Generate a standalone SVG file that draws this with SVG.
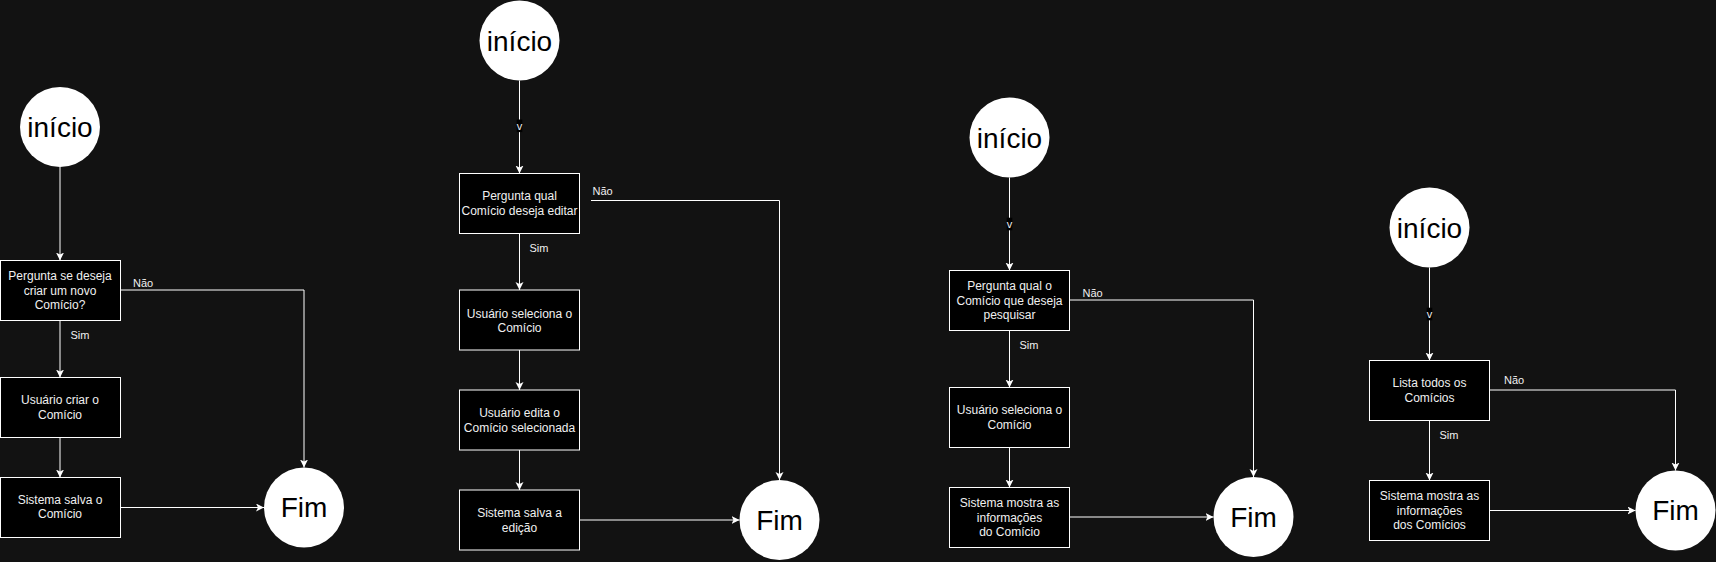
<svg xmlns="http://www.w3.org/2000/svg" width="1716" height="562" viewBox="0 0 1716 562">
<defs>
<marker id="arr" markerUnits="userSpaceOnUse" markerWidth="10" markerHeight="10" refX="8" refY="4" orient="auto">
<path d="M0,0 L8,4 L0,8 L2,4 Z" fill="#ffffff"/>
</marker>
<style>
.bg{fill:#121212}
.box{fill:#000000;stroke:#ffffff;stroke-width:1}
.circ{fill:#ffffff;stroke:none}
.big{font-family:"Liberation Sans",Arial,sans-serif;font-size:28px;fill:#000000;text-anchor:middle}
.t{font-family:"Liberation Sans",Arial,sans-serif;font-size:12px;fill:#f0f0f0;text-anchor:middle}
.lbl{font-family:"Liberation Sans",Arial,sans-serif;font-size:11px;fill:#f0f0f0}
.lblc{font-family:"Liberation Sans",Arial,sans-serif;font-size:11px;fill:#f0f0f0;text-anchor:middle}
.e{fill:none;stroke:#ffffff;stroke-width:1;marker-end:url(#arr)}
.vbg{fill:#000000}
</style>
</defs>
<rect class="bg" x="0" y="0" width="1716" height="562"/>

<g id="connectors">
<!-- diagram 1 -->
<path class="e" d="M60,167 L60,260.5"/>
<path class="e" d="M120.5,290 L304,290 L304,467.5"/>
<path class="e" d="M60,320.5 L60,377.5"/>
<path class="e" d="M60,437.5 L60,477.5"/>
<path class="e" d="M120.5,507.5 L264,507.5"/>
<text class="lbl" x="133" y="286.5">Não</text>
<text class="lblc" x="80" y="339">Sim</text>
<!-- diagram 2 -->
<path class="e" d="M519.5,80.5 L519.5,173.5"/>
<rect class="vbg" x="516.7" y="119.5" width="5.6" height="12.6"/>
<text class="lblc" x="519.5" y="129.5">v</text>
<path class="e" d="M591,200.5 L779.5,200.5 L779.5,480"/>
<text class="lbl" x="592.5" y="194.5">Não</text>
<path class="e" d="M519.5,233.5 L519.5,290"/>
<text class="lblc" x="539" y="252">Sim</text>
<path class="e" d="M519.5,350 L519.5,390"/>
<path class="e" d="M519.5,450 L519.5,490"/>
<path class="e" d="M579.5,520 L739.5,520"/>
<!-- diagram 3 -->
<path class="e" d="M1009.5,177.5 L1009.5,270.5"/>
<rect class="vbg" x="1006.7" y="217.7" width="5.6" height="12.6"/>
<text class="lblc" x="1009.5" y="228">v</text>
<path class="e" d="M1069.5,300 L1253.5,300 L1253.5,477"/>
<text class="lbl" x="1082.5" y="296.5">Não</text>
<path class="e" d="M1009.5,330.5 L1009.5,387.5"/>
<text class="lblc" x="1029" y="349">Sim</text>
<path class="e" d="M1009.5,447.5 L1009.5,487.5"/>
<path class="e" d="M1069.5,517 L1213.5,517"/>
<!-- diagram 4 -->
<path class="e" d="M1429.5,267.5 L1429.5,360.5"/>
<rect class="vbg" x="1426.7" y="307.7" width="5.6" height="12.6"/>
<text class="lblc" x="1429.5" y="318">v</text>
<path class="e" d="M1489.5,390 L1675.5,390 L1675.5,470.5"/>
<text class="lbl" x="1504" y="384">Não</text>
<path class="e" d="M1429.5,420.5 L1429.5,480.5"/>
<text class="lblc" x="1449" y="439">Sim</text>
<path class="e" d="M1489.5,510.5 L1635.5,510.5"/>
</g>

<!-- diagram 1 nodes -->
<g id="d1-inicio"><circle class="circ" cx="60" cy="127" r="40"/><text class="big" x="60" y="137">início</text></g>
<g id="d1-pergunta"><rect class="box" x="0.5" y="260.5" width="120" height="60"/>
<text class="t" x="60" y="280">Pergunta se deseja</text><text class="t" x="60" y="294.5">criar um novo</text><text class="t" x="60" y="309">Comício?</text></g>
<g id="d1-usuario"><rect class="box" x="0.5" y="377.5" width="120" height="60"/>
<text class="t" x="60" y="404">Usuário criar o</text><text class="t" x="60" y="418.5">Comício</text></g>
<g id="d1-sistema"><rect class="box" x="0.5" y="477.5" width="120" height="60"/>
<text class="t" x="60" y="503.5">Sistema salva o</text><text class="t" x="60" y="518">Comício</text></g>
<g id="d1-fim"><circle class="circ" cx="304" cy="507.5" r="40"/><text class="big" x="304" y="517">Fim</text></g>

<!-- diagram 2 nodes -->
<g id="d2-inicio"><circle class="circ" cx="519.5" cy="40.5" r="40"/><text class="big" x="519.5" y="50.5">início</text></g>
<g id="d2-pergunta"><rect class="box" x="459.5" y="173.5" width="120" height="60"/>
<text class="t" x="519.5" y="200">Pergunta qual</text><text class="t" x="519.5" y="214.5">Comício deseja editar</text></g>
<g id="d2-seleciona"><rect class="box" x="459.5" y="290" width="120" height="60"/>
<text class="t" x="519.5" y="317.5">Usuário seleciona o</text><text class="t" x="519.5" y="332">Comício</text></g>
<g id="d2-edita"><rect class="box" x="459.5" y="390" width="120" height="60"/>
<text class="t" x="519.5" y="417">Usuário edita o</text><text class="t" x="519.5" y="431.5">Comício selecionada</text></g>
<g id="d2-salva"><rect class="box" x="459.5" y="490" width="120" height="60"/>
<text class="t" x="519.5" y="517">Sistema salva a</text><text class="t" x="519.5" y="531.5">edição</text></g>
<g id="d2-fim"><circle class="circ" cx="779.5" cy="520" r="40"/><text class="big" x="779.5" y="529.5">Fim</text></g>

<!-- diagram 3 nodes -->
<g id="d3-inicio"><circle class="circ" cx="1009.5" cy="137.5" r="40"/><text class="big" x="1009.5" y="147.5">início</text></g>
<g id="d3-pergunta"><rect class="box" x="949.5" y="270.5" width="120" height="60"/>
<text class="t" x="1009.5" y="290">Pergunta qual o</text><text class="t" x="1009.5" y="304.5">Comício que deseja</text><text class="t" x="1009.5" y="319">pesquisar</text></g>
<g id="d3-seleciona"><rect class="box" x="949.5" y="387.5" width="120" height="60"/>
<text class="t" x="1009.5" y="414">Usuário seleciona o</text><text class="t" x="1009.5" y="428.5">Comício</text></g>
<g id="d3-mostra"><rect class="box" x="949.5" y="487.5" width="120" height="60"/>
<text class="t" x="1009.5" y="507">Sistema mostra as</text><text class="t" x="1009.5" y="521.5">informações</text><text class="t" x="1009.5" y="536">do Comício</text></g>
<g id="d3-fim"><circle class="circ" cx="1253.5" cy="517" r="40"/><text class="big" x="1253.5" y="526.5">Fim</text></g>

<!-- diagram 4 nodes -->
<g id="d4-inicio"><circle class="circ" cx="1429.5" cy="227.5" r="40"/><text class="big" x="1429.5" y="237.5">início</text></g>
<g id="d4-lista"><rect class="box" x="1369.5" y="360.5" width="120" height="60"/>
<text class="t" x="1429.5" y="387">Lista todos os</text><text class="t" x="1429.5" y="401.5">Comícios</text></g>
<g id="d4-mostra"><rect class="box" x="1369.5" y="480.5" width="120" height="60"/>
<text class="t" x="1429.5" y="500">Sistema mostra as</text><text class="t" x="1429.5" y="514.5">informações</text><text class="t" x="1429.5" y="529">dos Comícios</text></g>
<g id="d4-fim"><circle class="circ" cx="1675.5" cy="510.5" r="40"/><text class="big" x="1675.5" y="520">Fim</text></g>
</svg>
